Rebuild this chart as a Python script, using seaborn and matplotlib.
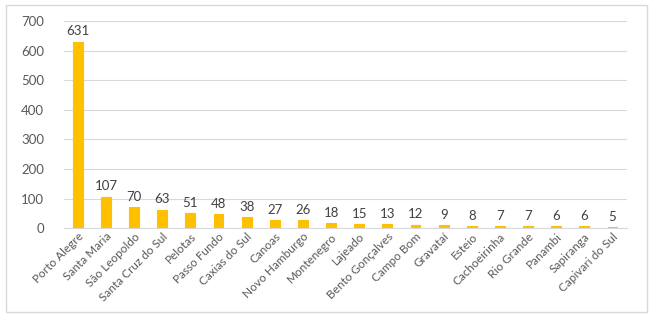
"""
plot.py
Casos por municipio - grafico de barras estilo Excel
"""

import matplotlib
matplotlib.use("Agg")
import matplotlib.pyplot as plt
import pandas as pd
import seaborn as sns
from matplotlib.patches import Rectangle

# DATOS

municipios = [
    "Porto Alegre", "Santa Maria", "São Leopoldo", "Santa Cruz do Sul",
    "Pelotas", "Passo Fundo", "Caxias do Sul", "Canoas", "Novo Hamburgo",
    "Montenegro", "Lajeado", "Bento Gonçalves", "Campo Bom", "Gravataí",
    "Esteio", "Cachoeirinha", "Rio Grande", "Panambi", "Sapiranga",
    "Capivari do Sul",
]
casos = [631, 107, 70, 63, 51, 48, 38, 27, 26, 18, 15, 13, 12, 9, 8, 7, 7, 6, 6, 5]
y_ticks = [0, 100, 200, 300, 400, 500, 600, 700]

BAR_COLOR = "#FFC000"
TEXT_COLOR = "#595959"

# GRAFICO

def main():
    df = pd.DataFrame({"municipio": municipios, "casos": casos})

    sns.set_style("white")
    plt.rcParams["font.family"] = ["Lato", "DejaVu Sans"]

    fig = plt.figure(figsize=(6.5, 3.16), dpi=100)
    ax = fig.add_axes([0.098, 0.278, 0.866, 0.655])

    sns.barplot(data=df, x="municipio", y="casos", color=BAR_COLOR,
                width=0.35, saturation=1, ax=ax, zorder=3,
                edgecolor=BAR_COLOR, linewidth=0.8)

    ax.set_ylim(0, 700)
    ax.set_yticks(y_ticks)
    ax.set_xlim(-0.5, len(municipios) - 0.5)
    ax.yaxis.grid(True, color="#D9D9D9", linewidth=0.8, zorder=0)
    ax.set_axisbelow(True)
    for side in ["top", "right", "left"]:
        ax.spines[side].set_visible(False)
    ax.spines["bottom"].set_color("#D9D9D9")
    ax.spines["bottom"].set_zorder(1)

    ax.set_xlabel("")
    ax.set_ylabel("")
    ax.tick_params(axis="y", length=0, labelsize=9.5, colors=TEXT_COLOR, pad=14)
    ax.tick_params(axis="x", length=0, labelsize=8.5, colors=TEXT_COLOR, pad=2)
    plt.setp(ax.get_xticklabels(), rotation=45, ha="right",
             rotation_mode="anchor")

    for i, v in enumerate(casos):
        ax.text(i, v + 14, str(v), ha="center", va="bottom",
                fontsize=9.5, color="#404040")

    # borde exterior del grafico
    fig.patches.append(Rectangle((0.009, 0.012), 0.986, 0.972,
                                 transform=fig.transFigure, fill=False,
                                 edgecolor="#D9D9D9", linewidth=1))

    fig.savefig("out.png", dpi=100)


if __name__ == "__main__":
    main()
